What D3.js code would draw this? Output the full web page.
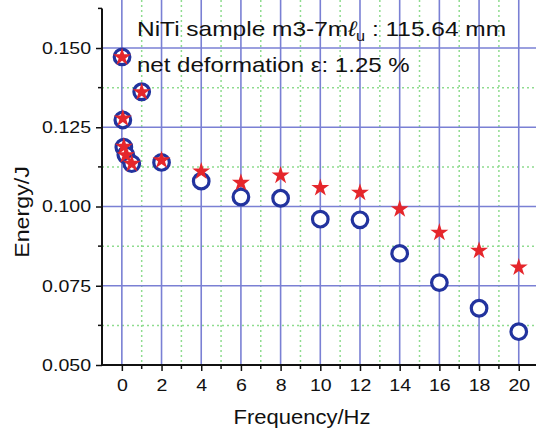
<!DOCTYPE html>
<html>
<head>
<meta charset="utf-8">
<script src="https://cdn.jsdelivr.net/npm/d3@7"></script>
<style>
  body { margin: 0; background: #fff; }
  text { font-family: "Liberation Sans", Arial, sans-serif; fill: #111; }
</style>
</head>
<body>
<div id="chart"></div>
<script>
// frequency values (Hz)
const freqs = [0.01, 0.05, 0.1, 0.2, 0.5, 1, 2, 4, 6, 8, 10, 12, 14, 16, 18, 20]
// energy, open circles
const circleVals = [0.1472, 0.1273, 0.1187, 0.1163, 0.1135, 0.1362, 0.1139, 0.1080,
                    0.1030, 0.1026, 0.0960, 0.0958, 0.0852, 0.0760, 0.0679, 0.0605]
// energy, red stars
const starVals = [0.1474, 0.1281, 0.1192, 0.1165, 0.1138, 0.1364, 0.1149, 0.1114,
                  0.1078, 0.1101, 0.1062, 0.1047, 0.0995, 0.0921, 0.0864, 0.0811]
const xMajor = [0, 2, 4, 6, 8, 10, 12, 14, 16, 18, 20]
const xMinor = [1, 3, 5, 7, 9, 11, 13, 15, 17, 19]
const yMajor = [0.050, 0.075, 0.100, 0.125, 0.150]
const yMinor = [0.0625, 0.0875, 0.1125, 0.1375, 0.1625]

const W = 536, H = 431

const svg = d3.select("#chart").append("svg")
    .attr("width", W).attr("height", H)

const x = d3.scaleLinear().domain([-1, 21]).range([102, 538.6])
const y = d3.scaleLinear().domain([0.05, 0.1625]).range([365, 8.4])

// grid
const grid = svg.append("g")
grid.selectAll(".vmin").data(xMinor).join("line")
    .attr("x1", d => x(d)).attr("x2", d => x(d))
    .attr("y1", 0).attr("y2", y(0.05))
    .attr("stroke", "#8fdc8f").attr("stroke-width", 1.5).attr("stroke-dasharray", "2,3")
grid.selectAll(".hmin").data(yMinor.slice(0, 4)).join("line")
    .attr("x1", x(-1)).attr("x2", W)
    .attr("y1", d => y(d)).attr("y2", d => y(d))
    .attr("stroke", "#8fdc8f").attr("stroke-width", 1.5).attr("stroke-dasharray", "2,3")
grid.selectAll(".vmaj").data(xMajor).join("line")
    .attr("x1", d => x(d)).attr("x2", d => x(d))
    .attr("y1", 0).attr("y2", y(0.05))
    .attr("stroke", "#7a80d4").attr("stroke-width", 1.6)
grid.selectAll(".hmaj").data(yMajor.slice(1)).join("line")
    .attr("x1", x(-1)).attr("x2", W)
    .attr("y1", d => y(d)).attr("y2", d => y(d))
    .attr("stroke", "#7a80d4").attr("stroke-width", 1.6)

// axes
const xAxis = svg.append("g").attr("transform", `translate(0,${y(0.05)})`)
    .call(d3.axisBottom(x).tickValues(xMajor).tickSize(6).tickPadding(8).tickFormat(d3.format("d")))
xAxis.append("g").selectAll("line").data(xMinor).join("line")
    .attr("x1", d => x(d)).attr("x2", d => x(d)).attr("y1", 0).attr("y2", 4)
    .attr("stroke", "#111").attr("stroke-width", 1.5)

const yAxis = svg.append("g").attr("transform", `translate(${x(-1)},0)`)
    .call(d3.axisLeft(y).tickValues(yMajor).tickSize(6).tickPadding(5).tickFormat(d3.format(".3f")))
yAxis.append("g").selectAll("line").data(yMinor).join("line")
    .attr("y1", d => y(d)).attr("y2", d => y(d)).attr("x1", 0).attr("x2", -4)
    .attr("stroke", "#111").attr("stroke-width", 1.5)

xAxis.select(".domain").attr("d", `M${x(-1)},0H${W}`)
yAxis.select(".domain").attr("d", `M0,${y(0.05)}V${y(0.1625)}`)
svg.selectAll(".domain").attr("stroke", "#111").attr("stroke-width", 2)
svg.selectAll(".tick line").attr("stroke", "#111").attr("stroke-width", 1.5)
svg.selectAll(".tick text").style("font-size", "17px").attr("fill", "#111")
    .style("font-family", '"Liberation Sans", Arial, sans-serif')
    .attr("data-k", 1.15)

// axis titles
svg.append("text")
    .attr("x", 302).attr("y", 424).attr("text-anchor", "middle")
    .style("font-size", "20px").attr("data-k", 1.1).text("Frequency/Hz")
svg.append("text")
    .attr("transform", "translate(29,212) rotate(-90)").attr("text-anchor", "middle")
    .style("font-size", "20px").attr("data-k", 1.16).text("Energy/J")

// markers
svg.append("g").selectAll("circle").data(freqs).join("circle")
    .attr("cx", d => x(d)).attr("cy", (d, i) => y(circleVals[i]))
    .attr("r", 7.8).attr("fill", "#fff").attr("stroke", "#22339e").attr("stroke-width", 3.2)

const star = d3.symbol(d3.symbolStar, 100)
svg.append("g").selectAll("path").data(freqs).join("path")
    .attr("d", star)
    .attr("transform", (d, i) => `translate(${x(d)},${y(starVals[i]) + 1})`)
    .attr("fill", "#e5262b")

// annotation
const note = svg.append("g").style("font-size", "21px")
const t1 = note.append("text").attr("x", 137).attr("y", 36).attr("data-k", 1.165)
t1.append("tspan").text("NiTi sample m3-7m")
t1.append("tspan").style("font-style", "italic").text("\u2113")
t1.append("tspan").attr("dy", 5).style("font-size", "14px").text("u")
t1.append("tspan").attr("dy", -5).text(" : 115.64 mm")
note.append("text").attr("x", 137).attr("y", 72).attr("data-k", 1.145)
    .text("net deformation \u03b5: 1.25 %")

// the source picture is stretched a little horizontally
svg.selectAll("text[data-k]").each(function() {
    const k = +this.getAttribute("data-k")
    const len = this.getComputedTextLength()
    d3.select(this).attr("textLength", len * k).attr("lengthAdjust", "spacingAndGlyphs")
})
</script>
</body>
</html>
